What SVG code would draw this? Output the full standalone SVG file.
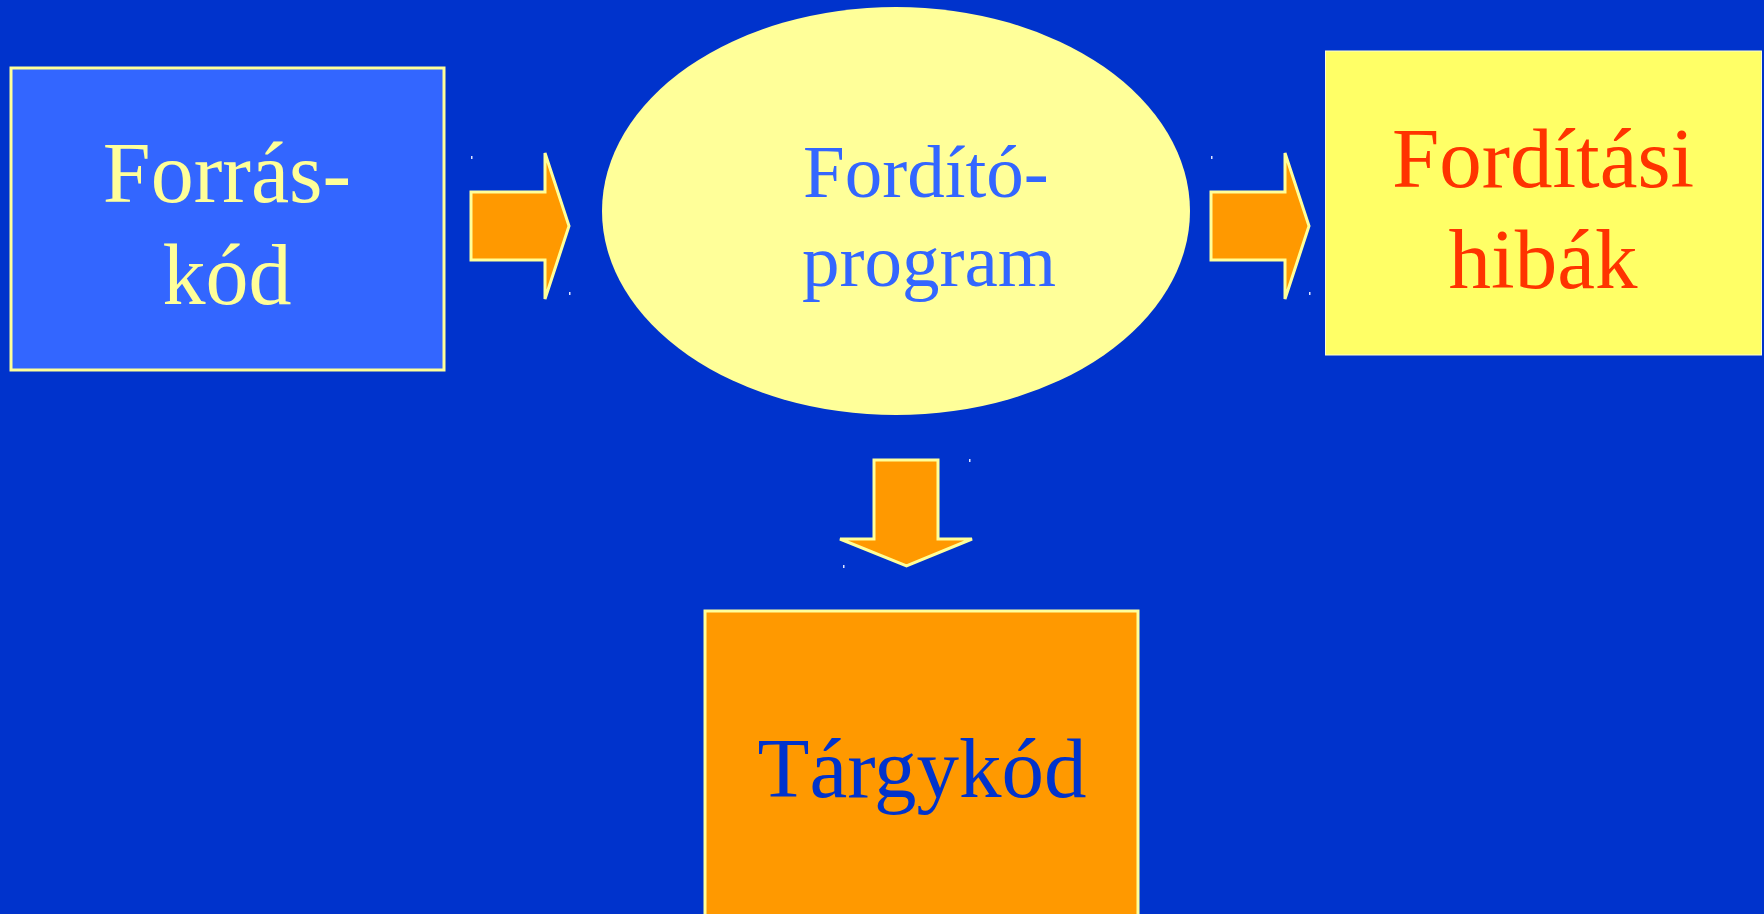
<svg xmlns="http://www.w3.org/2000/svg" width="1764" height="914" viewBox="0 0 1764 914">
<style>
.t{font-family:"Liberation Serif","Times New Roman",serif;text-anchor:middle}
.arrow{fill:#FF9900;stroke:#FFFF99;stroke-width:3;stroke-linejoin:miter}
.dot{fill:#DDE4FF}
</style>
<rect width="1764" height="914" fill="#0033CC"/>
<g id="forraskod">
<rect x="11" y="68" width="433" height="302" fill="#3366FF" stroke="#FFFF99" stroke-width="3"/>
<text class="t" x="227" y="202" font-size="86" fill="#FFFF99">Forrás-</text>
<text class="t" x="227" y="304" font-size="86" fill="#FFFF99">kód</text>
</g>
<g id="forditoprogram">
<ellipse cx="896" cy="211" rx="294" ry="204" fill="#FFFF99"/>
<text x="803" y="197" font-size="75" fill="#3366FF" font-family="Liberation Serif, Times New Roman, serif">Fordító-</text>
<text x="802" y="286" font-size="75" fill="#3366FF" font-family="Liberation Serif, Times New Roman, serif">program</text>
</g>
<g id="forditasihibak">
<rect x="1325.5" y="51" width="436" height="304" fill="#FFFF66" stroke="#FFFFCC" stroke-width="1"/>
<text class="t" x="1543" y="187" font-size="85" fill="#FF3300">Fordítási</text>
<text class="t" x="1543" y="288" font-size="85" fill="#FF3300">hibák</text>
</g>
<g id="targykod">
<rect x="705" y="611" width="433" height="320" fill="#FF9900" stroke="#FFFF99" stroke-width="3"/>
<text class="t" x="922" y="797" font-size="85" fill="#0033CC">Tárgykód</text>
</g>
<g id="connectors">
<polygon class="arrow" points="471,192 545,192 545,153 569,226 545,299 545,260 471,260"/>
<polygon class="arrow" points="1211,192 1285,192 1285,153 1309,226 1285,299 1285,260 1211,260"/>
<polygon class="arrow" points="874,460 938,460 938,539 972,539 906.5,566 840,539 874,539"/>
<rect class="dot" x="471" y="156" width="1.5" height="3"/>
<rect class="dot" x="569" y="292" width="1.5" height="3"/>
<rect class="dot" x="1211" y="156" width="1.5" height="3"/>
<rect class="dot" x="1309" y="292" width="1.5" height="3"/>
<rect class="dot" x="969" y="459" width="1.5" height="3"/>
<rect class="dot" x="843" y="565" width="1.5" height="3"/>
</g>
</svg>
